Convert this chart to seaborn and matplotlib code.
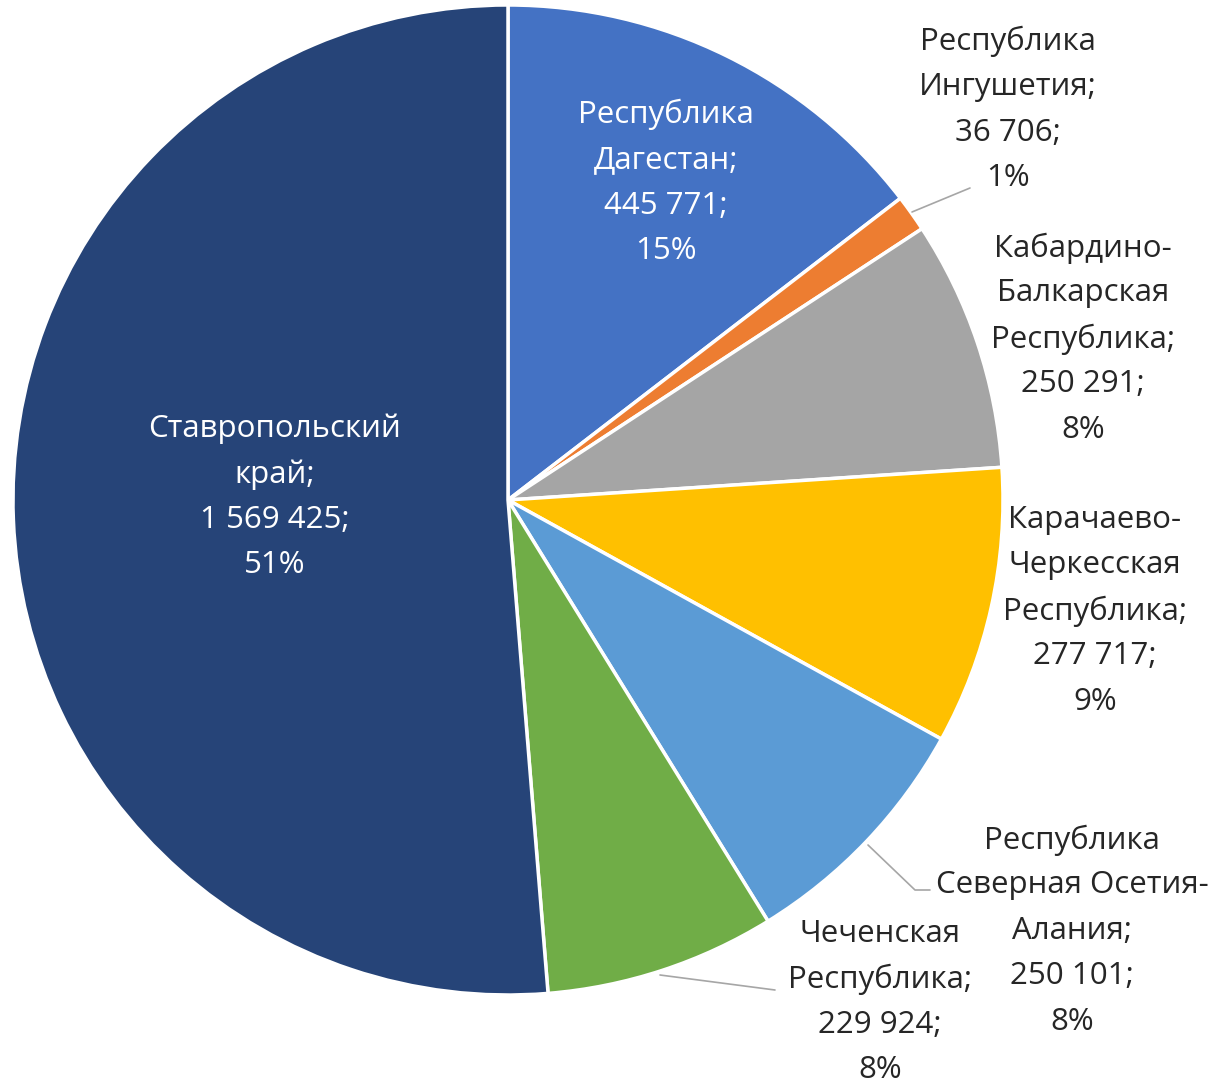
import matplotlib
matplotlib.use("Agg")
import matplotlib.pyplot as plt
import seaborn as sns

regions = ["Республика\nДагестан", "Республика\nИнгушетия", "Кабардино-\nБалкарская\nРеспублика",
           "Карачаево-\nЧеркесская\nРеспублика", "Республика\nСеверная Осетия-\nАлания",
           "Чеченская\nРеспублика", "Ставропольский\nкрай"]
values = [445771, 36706, 250291, 277717, 250101, 229924, 1569425]
colors = ["#4472C4", "#ED7D31", "#A5A5A5", "#FFC000", "#5B9BD5", "#70AD47", "#264478"]

# label layout (pixel centres in the output image)
label_px = [(666, 183), (1008, 110), (1083, 339), (1095, 611), (1072, 931), (880, 1002), (275, 497)]
label_col = ["white", "#262626", "#262626", "#262626", "#262626", "#262626", "white"]
leaders = {1: [(912, 212), (970, 188)], 4: [(868, 845), (915, 890), (930, 890)],
           5: [(660, 975), (775, 990)]}
LINE_H = 45.5

sns.set_theme(style="white")
plt.rcParams['font.family'] = ['Open Sans', 'DejaVu Sans']

W, H = 1217, 1084
CX, CY, R = 508, 500, 495
fig = plt.figure(figsize=(W / 100, H / 100), dpi=100)
ax = fig.add_axes([0, 0, 1, 1])
ax.pie(values, colors=colors, startangle=90, counterclock=False, radius=1,
       wedgeprops=dict(edgecolor="white", linewidth=2.5))
ax.set_xlim((0 - CX) / R, (W - CX) / R)
ax.set_ylim((CY - H) / R, CY / R)
ax.set_aspect("equal")
ax.axis("off")

def d(p):
    return ((p[0] - CX) / R, (CY - p[1]) / R)

total = sum(values)
for i, (name, v) in enumerate(zip(regions, values)):
    txt = f"{name};\n{v:,}".replace(",", " ") + f";\n{round(100 * v / total)}%"
    lines = txt.split("\n")
    n = len(lines)
    px, py = label_px[i]
    for k, line in enumerate(lines):
        x, y = d((px, py + (k - (n - 1) / 2) * LINE_H))
        ax.text(x, y, line, ha="center", va="center", fontsize=22.5, color=label_col[i])

for i, pts in leaders.items():
    xs, ys = zip(*[d(p) for p in pts])
    ax.plot(xs, ys, color="#A6A6A6", lw=1.2)

fig.savefig("out.png", dpi=100)
